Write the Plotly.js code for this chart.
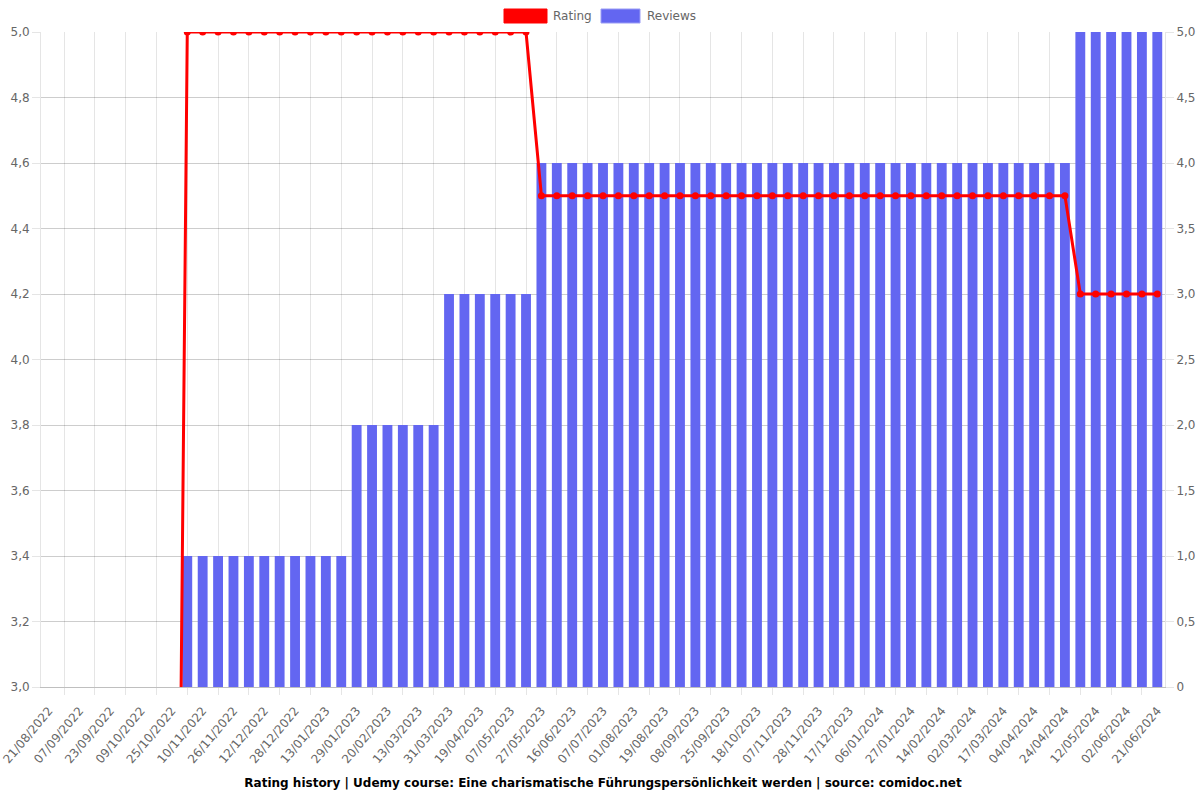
<!DOCTYPE html>
<html>
<head>
<meta charset="utf-8">
<script src="https://cdn.plot.ly/plotly-3.0.1.min.js"></script>
<style>html,body{margin:0;padding:0;background:#fff;}#chart{width:1200px;height:800px;}</style>
</head>
<body>
<div id="chart"></div>
<script>
// Category dates (every other one is labelled on the axis; the others are estimated)
const dates = [
  "21/08/2022","29/08/2022","07/09/2022","15/09/2022","23/09/2022","01/10/2022","09/10/2022","17/10/2022",
  "25/10/2022","02/11/2022","10/11/2022","18/11/2022","26/11/2022","04/12/2022","12/12/2022","20/12/2022",
  "28/12/2022","05/01/2023","13/01/2023","21/01/2023","29/01/2023","09/02/2023","20/02/2023","03/03/2023",
  "13/03/2023","22/03/2023","31/03/2023","09/04/2023","19/04/2023","28/04/2023","07/05/2023","17/05/2023",
  "27/05/2023","06/06/2023","16/06/2023","26/06/2023","07/07/2023","19/07/2023","01/08/2023","10/08/2023",
  "19/08/2023","29/08/2023","08/09/2023","16/09/2023","25/09/2023","06/10/2023","18/10/2023","28/10/2023",
  "07/11/2023","17/11/2023","28/11/2023","07/12/2023","17/12/2023","27/12/2023","06/01/2024","16/01/2024",
  "27/01/2024","05/02/2024","14/02/2024","22/02/2024","02/03/2024","09/03/2024","17/03/2024","26/03/2024",
  "04/04/2024","14/04/2024","24/04/2024","03/05/2024","12/05/2024","23/05/2024","02/06/2024","11/06/2024",
  "21/06/2024"
];

const rating = [
  0,0,0,0,0,0,0,0,0,
  5,5,5,5,5,5,5,5,5,5,5,5,5,5,5,5,5,5,5,5,5,5,5,
  4.5,4.5,4.5,4.5,4.5,4.5,4.5,4.5,4.5,4.5,4.5,4.5,4.5,4.5,4.5,4.5,4.5,4.5,
  4.5,4.5,4.5,4.5,4.5,4.5,4.5,4.5,4.5,4.5,4.5,4.5,4.5,4.5,4.5,4.5,4.5,
  4.2,4.2,4.2,4.2,4.2,4.2
];

const reviews = [
  0,0,0,0,0,0,0,0,0,
  1,1,1,1,1,1,1,1,1,1,1,
  2,2,2,2,2,2,
  3,3,3,3,3,3,
  4,4,4,4,4,4,4,4,4,4,4,4,4,4,4,4,4,4,4,4,4,4,4,4,4,4,4,4,4,4,4,4,4,4,4,
  5,5,5,5,5,5
];

const ratingTicks = [3.0,3.2,3.4,3.6,3.8,4.0,4.2,4.4,4.6,4.8,5.0];
const reviewTickVals = [0,0.5,1,1.5,2,2.5,3,3.5,4,4.5,5];
const reviewTickText = ["0","0,5","1,0","1,5","2,0","2,5","3,0","3,5","4,0","4,5","5,0"];
const titleText = "Rating history | Udemy course: Eine charismatische Führungspersönlichkeit werden | source: comidoc.net";

const labelDates = dates.filter((d, i) => i % 2 === 0);
const gridDates = dates.filter((d, i) => i % 2 === 1);

const FONT = "DejaVu Sans, sans-serif";
const GRID = "rgba(0,0,0,0.1)";
const TICKC = "#666";
const nCat = dates.length;

const traces = [
  {
    type: "bar", name: "Reviews", x: dates, y: reviews,
    xaxis: "x", yaxis: "y",
    marker: { color: "#6366f1", line: { width: 0 } },
    hoverinfo: "x+y"
  },
  {
    type: "scatter", mode: "lines+markers", name: "Rating", x: dates, y: rating,
    xaxis: "x2", yaxis: "y2",
    line: { color: "#ff0000", width: 3 },
    marker: { color: "#ff0000", size: 7 },
    hoverinfo: "x+y"
  }
];

const legendY0 = (687 - 23) / 655, legendY1 = (687 - 9) / 655, legendYm = (687 - 16) / 655;
const px = v => (v - 41) / 1124;

const layout = {
  width: 1200, height: 800,
  margin: { l: 41, r: 35, t: 32, b: 113, pad: 0 },
  paper_bgcolor: "#fff", plot_bgcolor: "#fff",
  separators: ",.",
  font: { family: FONT, size: 12, color: TICKC },
  showlegend: false,
  bargap: 0.36,
  title: {
    text: titleText, x: 0.5, xanchor: "center", xref: "paper",
    y: 1 - 783 / 800, yref: "container", yanchor: "middle",
    font: { family: FONT, size: 12, color: "#000", weight: "bold" }
  },
  xaxis: {
    type: "category", range: [-0.5, nCat - 0.5],
    tickmode: "array", tickvals: gridDates, showticklabels: false,
    showgrid: true, gridcolor: GRID, gridwidth: 1,
    ticks: "outside", ticklen: 7, tickcolor: GRID,
    showline: true, linecolor: "rgba(0,0,0,0.25)", linewidth: 1,
    zeroline: false, anchor: "y", fixedrange: true
  },
  xaxis2: {
    type: "category", range: [-0.5, nCat - 0.5], overlaying: "x", side: "bottom", anchor: "y2",
    tickmode: "array", tickvals: labelDates, ticktext: labelDates,
    tickangle: -50, tickfont: { family: FONT, size: 12, color: TICKC },
    showgrid: false, ticks: "outside", ticklen: 11, tickcolor: "rgba(0,0,0,0)",
    showline: false, zeroline: false, fixedrange: true
  },
  yaxis: {
    side: "right", range: [0, 5],
    tickmode: "array", tickvals: reviewTickVals, ticktext: reviewTickText,
    tickfont: { family: FONT, size: 12, color: TICKC },
    showgrid: true, gridcolor: GRID, zeroline: false,
    ticks: "outside", ticklen: 8, tickcolor: GRID,
    showline: true, linecolor: GRID, fixedrange: true
  },
  yaxis2: {
    side: "left", overlaying: "y", range: [3, 5],
    tickmode: "array", tickvals: ratingTicks, tickformat: ".1f",
    tickfont: { family: FONT, size: 12, color: TICKC },
    showgrid: true, gridcolor: GRID, zeroline: false,
    ticks: "outside", ticklen: 8, tickcolor: GRID,
    showline: true, linecolor: GRID, fixedrange: true
  },
  shapes: [
    { type: "rect", xref: "paper", yref: "paper", x0: px(504), x1: px(547), y0: legendY0, y1: legendY1,
      fillcolor: "#ff0000", line: { color: "#ff0000", width: 1 } },
    { type: "rect", xref: "paper", yref: "paper", x0: px(601), x1: px(640), y0: legendY0, y1: legendY1,
      fillcolor: "#6366f1", line: { color: "#9a9cf5", width: 1 } }
  ],
  annotations: [
    { text: "Rating", xref: "paper", yref: "paper", x: px(551), y: legendYm, xanchor: "left", yanchor: "middle",
      showarrow: false, font: { family: FONT, size: 12, color: TICKC } },
    { text: "Reviews", xref: "paper", yref: "paper", x: px(645), y: legendYm, xanchor: "left", yanchor: "middle",
      showarrow: false, font: { family: FONT, size: 12, color: TICKC } }
  ]
};

Plotly.newPlot("chart", traces, layout, { displayModeBar: false, staticPlot: true });
</script>
</body>
</html>
